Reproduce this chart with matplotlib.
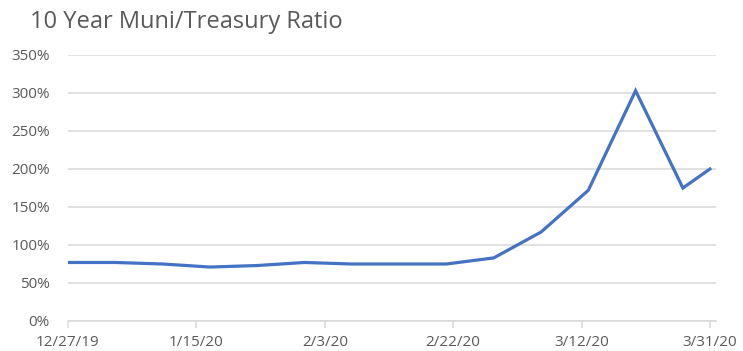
import matplotlib.pyplot as plt
import numpy as np
from datetime import datetime, timedelta

# weekly observations, last one on 3/31
dates = ['2019-12-27', '2020-01-03', '2020-01-10', '2020-01-17', '2020-01-24',
         '2020-01-31', '2020-02-07', '2020-02-14', '2020-02-21', '2020-02-28',
         '2020-03-06', '2020-03-13', '2020-03-20', '2020-03-27', '2020-03-31']
ratio = [77, 77, 75, 71, 73, 77, 75, 75, 75, 83, 117, 172, 303, 175, 200]
tick_labels = ['12/27/19', '1/15/20', '2/3/20', '2/22/20', '3/12/20', '3/31/20']

x = [datetime.strptime(d, '%Y-%m-%d') for d in dates]
start = x[0]
ticks = [start + timedelta(days=19 * i) for i in range(len(tick_labels))]

plt.rcParams['font.family'] = ['Open Sans', 'DejaVu Sans']
grey = '#595959'

fig = plt.figure(figsize=(7.43, 3.51), dpi=100)
ax = fig.add_axes([68 / 743, 30 / 351, 648 / 743, 266 / 351])

ax.plot(x, ratio, color='#4472C4', linewidth=2.3, solid_joinstyle='miter', zorder=3)

ax.set_ylim(0, 350)
ax.set_yticks(np.arange(0, 351, 50))
ax.set_yticklabels([f'{v}%' for v in range(0, 351, 50)])
ax.set_xlim(start, start + timedelta(days=95.9))
ax.set_xticks(ticks)
ax.set_xticklabels(tick_labels)

ax.grid(axis='y', color='#d9d9d9', linewidth=1.1)
ax.set_axisbelow(True)
for s in ['top', 'right', 'left']:
    ax.spines[s].set_visible(False)
ax.spines['bottom'].set_color('#d9d9d9')
ax.spines['bottom'].set_linewidth(1.1)
ax.tick_params(axis='y', length=0, pad=13, labelsize=11, labelcolor=grey)
ax.tick_params(axis='x', length=5, width=1.1, color='#d9d9d9', pad=5, labelsize=11, labelcolor=grey)

fig.text(30 / 743, 1 - 22 / 351, '10 Year Muni/Treasury Ratio', fontsize=17, color=grey, va='center')

fig.savefig('out.png', dpi=100)
